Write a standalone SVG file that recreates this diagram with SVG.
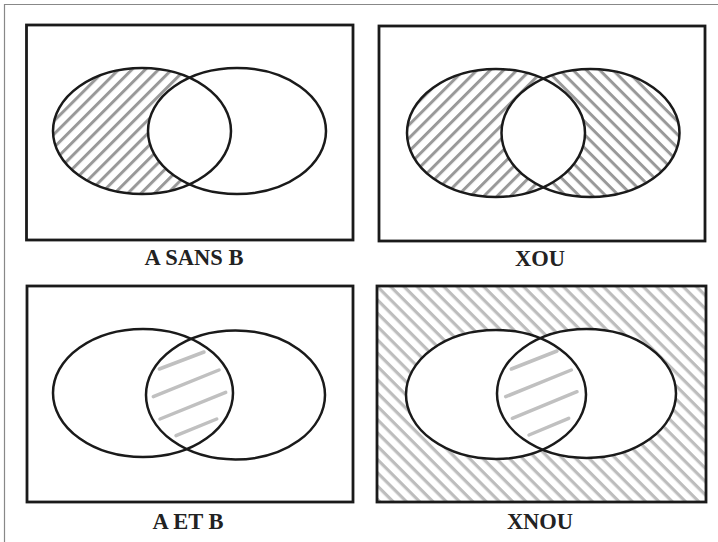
<svg xmlns="http://www.w3.org/2000/svg" width="718" height="542" viewBox="0 0 718 542">
<style>
.frame{fill:none;stroke:#888;stroke-width:1.2}
.box{fill:none;stroke:#1a1a1a;stroke-width:2.8}
.ell{fill:none;stroke:#1a1a1a;stroke-width:2.5}
.lbl{font-family:'Liberation Serif','Times New Roman','DejaVu Serif',serif;font-size:22.5px;font-weight:bold;fill:#222;text-anchor:middle}
.seg{stroke:#c0c0c0;stroke-width:3.5;stroke-linecap:round}
</style>
<defs>
<pattern id="hf" width="12" height="9.4" patternUnits="userSpaceOnUse" patternTransform="rotate(-45)">
<rect width="12" height="3" fill="#999"/>
</pattern>
<pattern id="hb" width="12" height="9.4" patternUnits="userSpaceOnUse" patternTransform="rotate(45)">
<rect width="12" height="3" fill="#999"/>
</pattern>
<pattern id="hl" width="12" height="9.4" patternUnits="userSpaceOnUse" patternTransform="rotate(45)">
<rect width="12" height="3.2" fill="#bdbdbd"/>
</pattern>
<mask id="m1" maskUnits="userSpaceOnUse" x="0" y="0" width="718" height="542">
<ellipse cx="142" cy="131" rx="89" ry="63" fill="#fff"/>
<ellipse cx="237" cy="131" rx="89" ry="63" fill="#000"/>
</mask>
<mask id="m2a" maskUnits="userSpaceOnUse" x="0" y="0" width="718" height="542">
<ellipse cx="496" cy="133" rx="89" ry="64" fill="#fff"/>
<ellipse cx="590.5" cy="133" rx="89" ry="64" fill="#000"/>
</mask>
<mask id="m2b" maskUnits="userSpaceOnUse" x="0" y="0" width="718" height="542">
<ellipse cx="590.5" cy="133" rx="89" ry="64" fill="#fff"/>
<ellipse cx="496" cy="133" rx="89" ry="64" fill="#000"/>
</mask>
<mask id="m4" maskUnits="userSpaceOnUse" x="0" y="0" width="718" height="542">
<rect x="377" y="286" width="329" height="216" fill="#fff"/>
<ellipse cx="496" cy="394.5" rx="90" ry="64.5" fill="#000"/>
<ellipse cx="586.5" cy="393.5" rx="89.5" ry="64.5" fill="#000"/>
</mask>
</defs>
<rect width="718" height="542" fill="#fff"/>
<g id="page-frame">
<line class="frame" x1="4" y1="4.5" x2="718" y2="4.5"/>
<line class="frame" x1="4.5" y1="4" x2="4.5" y2="542"/>
</g>
<g id="a-sans-b">
<rect x="0" y="0" width="718" height="542" fill="url(#hf)" mask="url(#m1)"/>
<rect class="box" x="26.5" y="25" width="326.5" height="215"/>
<ellipse class="ell" cx="142" cy="131" rx="89" ry="63"/>
<ellipse class="ell" cx="237" cy="131" rx="89" ry="63"/>
<text class="lbl" x="194" y="265">A SANS B</text>
</g>
<g id="xou">
<rect x="0" y="0" width="718" height="542" fill="url(#hf)" mask="url(#m2a)"/>
<rect x="0" y="0" width="718" height="542" fill="url(#hb)" mask="url(#m2b)"/>
<rect class="box" x="379" y="26" width="326" height="215"/>
<ellipse class="ell" cx="496" cy="133" rx="89" ry="64"/>
<ellipse class="ell" cx="590.5" cy="133" rx="89" ry="64"/>
<text class="lbl" x="540" y="266">XOU</text>
</g>
<g id="a-et-b">
<line class="seg" x1="159.3" y1="369" x2="204" y2="352"/>
<line class="seg" x1="153.3" y1="396.7" x2="219" y2="370"/>
<line class="seg" x1="160" y1="419" x2="225.7" y2="392.3"/>
<line class="seg" x1="176" y1="435.7" x2="216.7" y2="419"/>
<rect class="box" x="27" y="286" width="326" height="216"/>
<ellipse class="ell" cx="143" cy="393" rx="90" ry="64"/>
<ellipse class="ell" cx="235.5" cy="395" rx="89.5" ry="64.5"/>
<text class="lbl" x="188" y="529">A ET B</text>
</g>
<g id="xnou">
<rect x="0" y="0" width="718" height="542" fill="url(#hl)" mask="url(#m4)"/>
<line class="seg" x1="511.3" y1="369" x2="557" y2="351"/>
<line class="seg" x1="505.7" y1="396.7" x2="571.3" y2="370"/>
<line class="seg" x1="512.3" y1="418.3" x2="577" y2="391.7"/>
<line class="seg" x1="529" y1="435" x2="568.7" y2="418.3"/>
<rect class="box" x="377" y="286" width="329" height="216"/>
<ellipse class="ell" cx="496" cy="394.5" rx="90" ry="64.5"/>
<ellipse class="ell" cx="586.5" cy="393.5" rx="89.5" ry="64.5"/>
<text class="lbl" x="540" y="529">XNOU</text>
</g>
</svg>
